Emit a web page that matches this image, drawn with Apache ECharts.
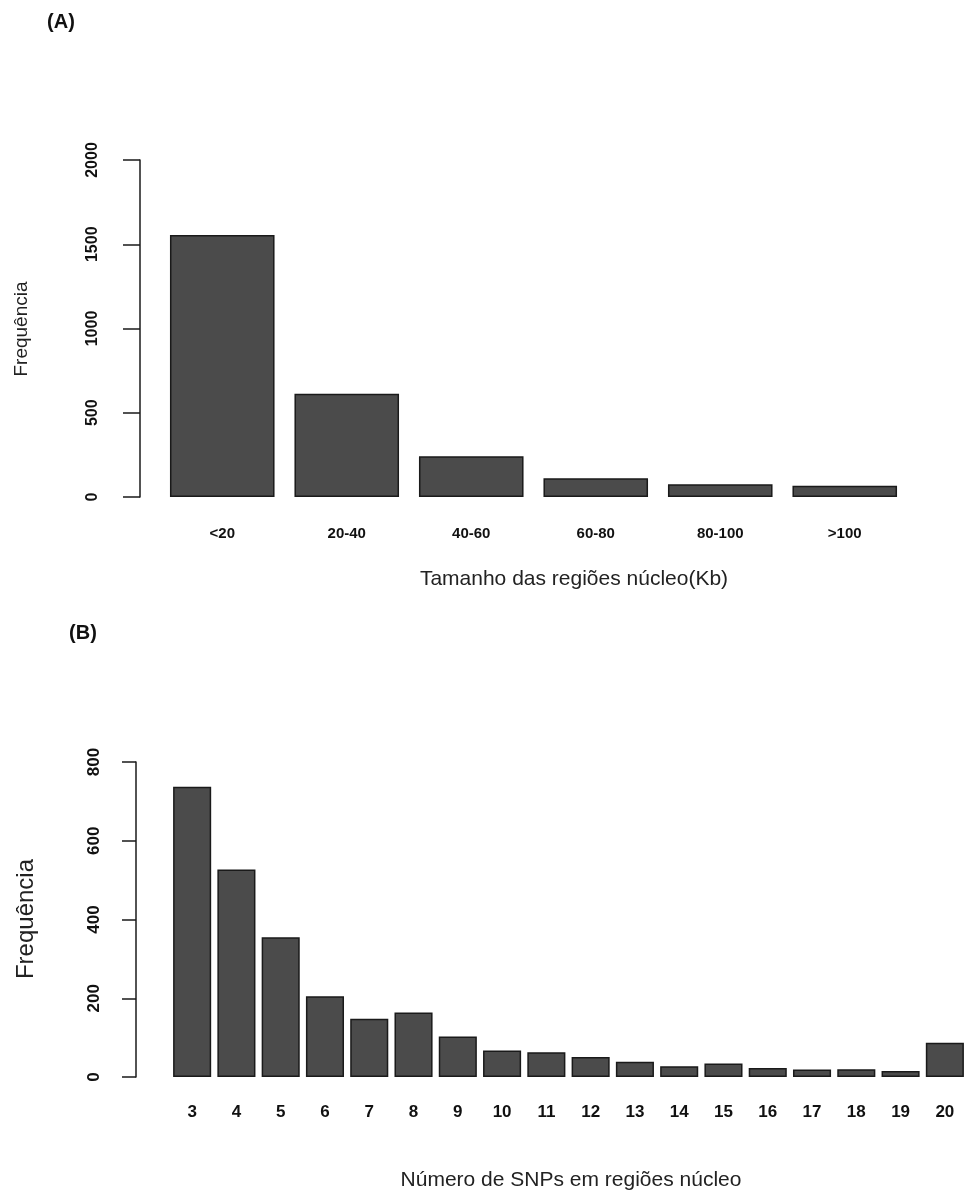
<!DOCTYPE html>
<html>
<head>
<meta charset="utf-8">
<script src="https://cdn.jsdelivr.net/npm/echarts@6/dist/echarts.min.js"></script>
<style>
  html, body { margin: 0; padding: 0; background: #ffffff; }
  #chart { width: 967px; height: 1203px; }
</style>
</head>
<body>
<div id="chart"></div>
<script>
// Panel A: size of core regions (Kb)
const sizeCategories = ['<20', '20-40', '40-60', '60-80', '80-100', '>100'];
const sizeCounts = [1555, 613, 242, 111, 76, 67];
const sizeTicks = [0, 500, 1000, 1500, 2000];

// Panel B: number of SNPs per core region
const snpCategories = ['3', '4', '5', '6', '7', '8', '9', '10', '11', '12', '13', '14', '15', '16', '17', '18', '19', '20'];
const snpCounts = [737, 527, 355, 205, 148, 164, 103, 67, 63, 51, 39, 27, 34, 23, 19, 20, 15, 87];
const snpTicks = [0, 200, 400, 600, 800];

const boldFont = '"Liberation Sans", Arial, sans-serif';
const regular = '"Liberation Sans", Arial, sans-serif';
const barFill = '#4b4b4b';
const ink = '#1a1a1a';

const chart = echarts.init(document.getElementById('chart'), null, { renderer: 'canvas' });

function valueAxis(gridIndex, ticks, offset, tickLen, margin, fontSize) {
  return {
    type: 'value',
    gridIndex: gridIndex,
    min: ticks[0],
    max: ticks[ticks.length - 1],
    interval: ticks[1] - ticks[0],
    offset: offset,
    axisLine: { show: true, lineStyle: { color: ink, width: 1.5 } },
    axisTick: { show: true, length: tickLen, lineStyle: { color: ink, width: 1.5 } },
    splitLine: { show: false },
    axisLabel: {
      rotate: 90,
      margin: margin,
      formatter: function (v) { return String(v); },
      fontFamily: boldFont,
      fontWeight: 'bold',
      fontSize: fontSize,
      color: '#111'
    }
  };
}

function categoryAxis(gridIndex, cats, margin, fontSize) {
  return {
    type: 'category',
    gridIndex: gridIndex,
    data: cats,
    axisLine: { show: false },
    axisTick: { show: false },
    axisLabel: {
      margin: margin,
      interval: 0,
      fontFamily: boldFont,
      fontWeight: 'bold',
      fontSize: fontSize,
      color: '#111'
    }
  };
}

function barSeries(axisIndex, values, gap) {
  return {
    type: 'bar',
    xAxisIndex: axisIndex,
    yAxisIndex: axisIndex,
    data: values,
    barCategoryGap: gap,
    itemStyle: { color: barFill, borderColor: ink, borderWidth: 1.5 },
    silent: true
  };
}

function text(x, y, str, size, opts) {
  return Object.assign({
    type: 'text',
    x: x,
    y: y,
    style: {
      text: str,
      fontFamily: regular,
      fontSize: size,
      fill: '#222',
      textAlign: 'center',
      textVerticalAlign: 'middle'
    }
  }, opts || {});
}

chart.setOption({
  animation: false,
  backgroundColor: '#ffffff',
  grid: [
    { left: 160, top: 160, width: 747, height: 337 },
    { left: 170, top: 762, width: 800, height: 315 }
  ],
  xAxis: [
    categoryAxis(0, sizeCategories, 29, 15),
    categoryAxis(1, snpCategories, 27, 17)
  ],
  yAxis: [
    valueAxis(0, sizeTicks, 20, 17, 39, 16),
    valueAxis(1, snpTicks, 34, 14, 33, 17)
  ],
  series: [
    barSeries(0, sizeCounts, '16%'),
    barSeries(1, snpCounts, '14%')
  ],
  graphic: [
    { type: 'text', x: 61, y: 22, style: { text: '(A)', fontFamily: regular, fontWeight: 'bold', fontSize: 20, fill: '#111', textAlign: 'center', textVerticalAlign: 'middle' } },
    { type: 'text', x: 83, y: 633, style: { text: '(B)', fontFamily: regular, fontWeight: 'bold', fontSize: 20, fill: '#111', textAlign: 'center', textVerticalAlign: 'middle' } },
    text(22, 329, 'Frequência', 19, { rotation: Math.PI / 2 }),
    text(574, 579, 'Tamanho das regiões núcleo(Kb)', 21),
    text(26, 919, 'Frequência', 24, { rotation: Math.PI / 2 }),
    text(571, 1180, 'Número de SNPs em regiões núcleo', 21)
  ]
});
</script>
</body>
</html>
